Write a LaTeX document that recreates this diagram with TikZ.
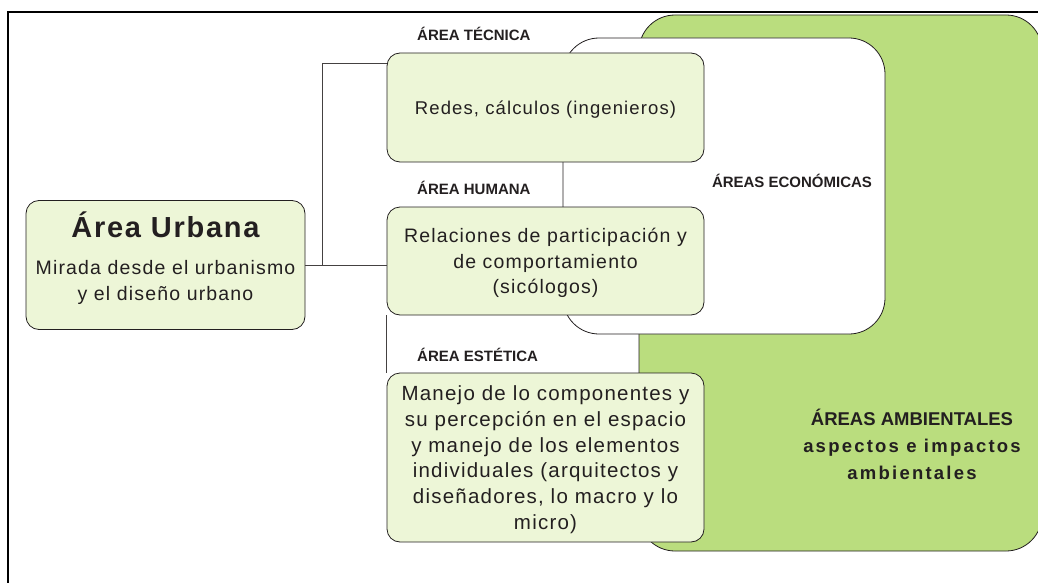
\documentclass[tikz,border=0pt]{standalone}
\usepackage[svgnames]{xcolor}
\usepackage{fontspec}
\setmainfont{Liberation Sans}
\newfontfamily\wide[LetterSpace=6]{Liberation Sans}
\newfontfamily\wider[LetterSpace=12]{Liberation Sans}
\usepackage{tikz}
\definecolor{paleleaf}{RGB}{237,246,215}
\definecolor{leaf}{RGB}{186,221,126}
\definecolor{ink}{RGB}{35,31,32}
\tikzstyle{area}=[draw=ink,line width=0.8pt,fill=paleleaf,rounded corners=13pt,inner sep=0pt,align=center,text=ink,font=\wide\fontsize{19.5}{25.5}\selectfont]
\tikzstyle{zone}=[draw=ink,line width=0.8pt,rounded corners=36pt,inner sep=0pt]
\tikzstyle{tag}=[anchor=west,inner sep=0pt,text=ink,font=\bfseries\fontsize{15}{18}\selectfont]
\tikzstyle{link}=[draw=ink!85,line width=0.8pt]

\begin{document}
\begin{tikzpicture}[x=1pt,y=-1pt]
\useasboundingbox (0,0) rectangle (1038,583);
\draw[line width=2pt] (8,583) -- (8,12) -- (1038,12);
% big background areas
\node[zone,fill=leaf,minimum width=403pt,minimum height=536pt] (amb) at (840.5,283) {};
\node[zone,fill=white,minimum width=322pt,minimum height=296pt] (eco) at (724,186) {};
\node[tag,anchor=center] (ecotxt) at (792,181) {ÁREAS ECONÓMICAS};
\node[text=ink,align=center,inner sep=0pt,font=\bfseries\fontsize{18.5}{27}\selectfont] (ambtxt) at (912,444)
  {ÁREAS AMBIENTALES\\ {\wider aspectos e impactos}\\ {\wider ambientales}};
% boxes
\node[area,minimum width=279pt,minimum height=129pt,text depth=18pt] (urb) at (165.5,265)
  {{\bfseries\fontsize{29}{24}\selectfont Área Urbana}\\[12pt] Mirada desde el urbanismo\\ y el diseño urbano};
\node[area,minimum width=317pt,minimum height=109pt,text depth=0pt,font=\wide\fontsize{18.5}{25.5}\selectfont] (tec) at (545.5,107.5) {Redes, cálculos (ingenieros)};
\node[area,minimum width=317pt,minimum height=108pt,text depth=0pt] (hum) at (545.5,261)
  {Relaciones de participación y\\ de comportamiento\\ (sicólogos)};
\node[area,minimum width=317pt,minimum height=169pt,text depth=0pt,font=\wide\fontsize{20.5}{25.7}\selectfont] (est) at (545.5,457.5)
  {Manejo de lo componentes y\\ su percepción en el espacio\\ y manejo de los elementos\\ individuales (arquitectos y\\ diseñadores, lo macro y lo\\ micro)};
\foreach \place/\name/\txt in {{(417,34)/tagtec/ÁREA TÉCNICA}, {(417,188)/taghum/ÁREA HUMANA}, {(417,355)/tagest/ÁREA ESTÉTICA}}
    \node[tag] (\name) at \place {\txt};
% links
\coordinate (fork) at (322,265);
\coordinate (tecin) at (387,63);
\draw[link] (urb.east) -- (urb.east -| hum.west);
\draw[link] (fork) |- (tecin);
\draw[link] (hum.south west) -- (est.north west);
\end{tikzpicture}
\end{document}
